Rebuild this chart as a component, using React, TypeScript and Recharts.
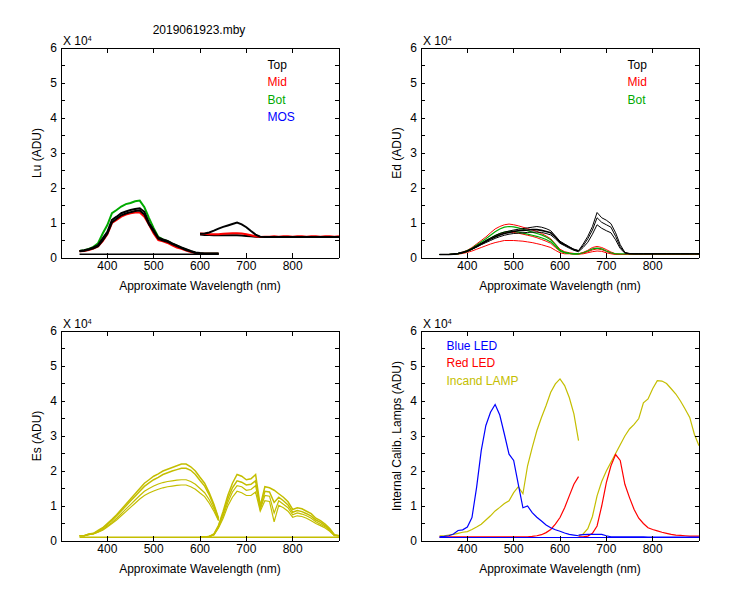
import { LineChart, Line, XAxis, YAxis, Legend, ReferenceLine } from 'recharts'

// Spectra are in units of 10^4 ADU
const wlA = [340, 350, 360, 370, 380, 390, 400, 410, 420, 430, 440, 450, 460, 470, 480, 490, 500, 510, 520, 530, 540, 550, 560, 570, 580, 590, 600, 610, 620, 630, 640]
const wlB = [600, 610, 620, 630, 640, 650, 660, 670, 680, 690, 700, 710, 720, 730, 740, 750, 760, 770, 780, 790, 800, 810, 820, 830, 840, 850, 860, 870, 880, 890, 900]
const wlBaseA = [340, 640]
const wlBaseAll = [340, 900]

const xTicks = [400, 500, 600, 700, 800]
const yTicks = [0, 0.5, 1, 1.5, 2, 2.5, 3, 3.5, 4, 4.5, 5, 5.5, 6]

// Lu
const luTopA = [0.2, 0.22, 0.25, 0.3, 0.37, 0.56, 0.75, 1.09, 1.18, 1.28, 1.33, 1.37, 1.4, 1.42, 1.32, 1.0, 0.8, 0.58, 0.53, 0.49, 0.42, 0.36, 0.3, 0.25, 0.2, 0.16, 0.14, 0.13, 0.13, 0.13, 0.13]
const luTopA2 = [0.19, 0.21, 0.24, 0.28, 0.34, 0.5, 0.7, 1.02, 1.12, 1.22, 1.27, 1.31, 1.34, 1.36, 1.24, 0.96, 0.75, 0.55, 0.5, 0.46, 0.4, 0.34, 0.28, 0.23, 0.19, 0.15, 0.13, 0.12, 0.12, 0.12, 0.12]
const luMidA = [0.19, 0.2, 0.23, 0.27, 0.33, 0.48, 0.68, 1.0, 1.09, 1.18, 1.24, 1.28, 1.3, 1.3, 1.18, 0.95, 0.7, 0.51, 0.48, 0.43, 0.36, 0.3, 0.26, 0.21, 0.17, 0.14, 0.12, 0.12, 0.12, 0.12, 0.12]
const luBotA = [0.2, 0.22, 0.26, 0.32, 0.42, 0.7, 0.94, 1.28, 1.37, 1.47, 1.54, 1.57, 1.62, 1.64, 1.45, 1.14, 0.85, 0.6, 0.53, 0.48, 0.41, 0.35, 0.29, 0.24, 0.19, 0.15, 0.13, 0.12, 0.12, 0.12, 0.12]
const luBaseA = [0.11, 0.11]
const luTopB = [0.69, 0.7, 0.73, 0.78, 0.84, 0.89, 0.93, 0.97, 1.01, 0.96, 0.88, 0.77, 0.67, 0.61, 0.6, 0.6, 0.6, 0.6, 0.6, 0.6, 0.6, 0.6, 0.6, 0.6, 0.6, 0.6, 0.6, 0.6, 0.6, 0.6, 0.6]
const luLowB = [0.67, 0.66, 0.66, 0.65, 0.65, 0.65, 0.65, 0.65, 0.65, 0.64, 0.63, 0.62, 0.61, 0.6, 0.6, 0.6, 0.6, 0.6, 0.6, 0.6, 0.6, 0.6, 0.6, 0.6, 0.6, 0.6, 0.6, 0.6, 0.6, 0.6, 0.6]
const luMidB = [0.7, 0.69, 0.68, 0.68, 0.68, 0.69, 0.7, 0.71, 0.71, 0.7, 0.68, 0.65, 0.62, 0.6, 0.61, 0.61, 0.62, 0.61, 0.62, 0.62, 0.61, 0.62, 0.62, 0.61, 0.62, 0.62, 0.61, 0.62, 0.62, 0.61, 0.62]

// Ed
const edTopA1 = [0.1, 0.1, 0.1, 0.11, 0.13, 0.16, 0.2, 0.27, 0.35, 0.42, 0.5, 0.57, 0.64, 0.7, 0.74, 0.77, 0.8, 0.82, 0.84, 0.86, 0.88, 0.9, 0.88, 0.84, 0.78, 0.63, 0.48, 0.4, 0.32, 0.25, 0.21]
const edTopA2 = [0.1, 0.1, 0.1, 0.11, 0.13, 0.16, 0.2, 0.26, 0.33, 0.4, 0.47, 0.54, 0.6, 0.66, 0.7, 0.73, 0.76, 0.78, 0.79, 0.8, 0.81, 0.81, 0.79, 0.76, 0.72, 0.6, 0.45, 0.38, 0.31, 0.24, 0.2]
const edTopA3 = [0.1, 0.1, 0.1, 0.11, 0.12, 0.15, 0.19, 0.25, 0.31, 0.38, 0.44, 0.5, 0.56, 0.61, 0.65, 0.68, 0.7, 0.71, 0.72, 0.73, 0.74, 0.74, 0.73, 0.7, 0.66, 0.55, 0.42, 0.35, 0.28, 0.22, 0.18]
const edTopB1 = [null, null, null, null, 0.21, 0.4, 0.62, 0.9, 1.3, 1.15, 1.08, 0.98, 0.72, 0.38, 0.16, 0.13, 0.12, 0.12, 0.12, 0.12, 0.12, 0.12, 0.12, 0.12, 0.12, 0.12, 0.12, 0.12, 0.12, 0.12, 0.12]
const edTopB2 = [null, null, null, null, 0.2, 0.35, 0.55, 0.8, 1.15, 1.02, 0.95, 0.88, 0.62, 0.32, 0.15, 0.12, 0.12, 0.12, 0.12, 0.12, 0.12, 0.12, 0.12, 0.12, 0.12, 0.12, 0.12, 0.12, 0.12, 0.12, 0.12]
const edTopB3 = [null, null, null, null, 0.18, 0.3, 0.45, 0.68, 0.95, 0.85, 0.78, 0.72, 0.52, 0.27, 0.14, 0.12, 0.12, 0.12, 0.12, 0.12, 0.12, 0.12, 0.12, 0.12, 0.12, 0.12, 0.12, 0.12, 0.12, 0.12, 0.12]
const edMidA1 = [0.1, 0.1, 0.1, 0.11, 0.13, 0.17, 0.22, 0.3, 0.4, 0.5, 0.6, 0.72, 0.83, 0.9, 0.95, 0.97, 0.95, 0.92, 0.88, 0.84, 0.8, 0.76, 0.7, 0.63, 0.55, 0.4, 0.25, 0.18, 0.15, 0.13, 0.12]
const edMidA2 = [0.1, 0.1, 0.1, 0.11, 0.12, 0.15, 0.19, 0.25, 0.32, 0.4, 0.48, 0.56, 0.63, 0.68, 0.72, 0.74, 0.73, 0.71, 0.68, 0.65, 0.62, 0.58, 0.53, 0.48, 0.42, 0.3, 0.2, 0.15, 0.13, 0.12, 0.12]
const edMidA3 = [0.1, 0.1, 0.1, 0.1, 0.11, 0.13, 0.16, 0.2, 0.25, 0.3, 0.35, 0.4, 0.44, 0.47, 0.5, 0.5, 0.5, 0.49, 0.48, 0.46, 0.44, 0.41, 0.38, 0.34, 0.3, 0.22, 0.15, 0.12, 0.12, 0.11, 0.11]
const edMidB1 = [null, null, null, null, 0.12, 0.16, 0.22, 0.3, 0.33, 0.3, 0.24, 0.17, 0.12, 0.11, 0.1, 0.1, 0.1, 0.1, 0.1, 0.1, 0.1, 0.1, 0.1, 0.1, 0.1, 0.1, 0.1, 0.1, 0.1, 0.1, 0.1]
const edMidB2 = [null, null, null, null, 0.11, 0.14, 0.18, 0.23, 0.26, 0.24, 0.19, 0.14, 0.11, 0.1, 0.1, 0.1, 0.1, 0.1, 0.1, 0.1, 0.1, 0.1, 0.1, 0.1, 0.1, 0.1, 0.1, 0.1, 0.1, 0.1, 0.1]
const edMidB3 = [null, null, null, null, 0.11, 0.12, 0.15, 0.18, 0.2, 0.19, 0.15, 0.12, 0.1, 0.1, 0.1, 0.1, 0.1, 0.1, 0.1, 0.1, 0.1, 0.1, 0.1, 0.1, 0.1, 0.1, 0.1, 0.1, 0.1, 0.1, 0.1]
const edBotA1 = [0.1, 0.1, 0.1, 0.11, 0.13, 0.16, 0.21, 0.28, 0.37, 0.46, 0.55, 0.65, 0.75, 0.83, 0.88, 0.9, 0.89, 0.86, 0.82, 0.78, 0.74, 0.7, 0.66, 0.6, 0.52, 0.38, 0.22, 0.16, 0.13, 0.12, 0.12]
const edBotA2 = [0.1, 0.1, 0.1, 0.11, 0.12, 0.15, 0.19, 0.25, 0.33, 0.41, 0.49, 0.57, 0.64, 0.7, 0.74, 0.76, 0.76, 0.74, 0.71, 0.68, 0.65, 0.62, 0.58, 0.53, 0.46, 0.34, 0.2, 0.15, 0.13, 0.12, 0.12]
const edBotB = [null, null, null, null, 0.12, 0.15, 0.2, 0.26, 0.28, 0.26, 0.2, 0.15, 0.12, 0.12, 0.12, 0.12, 0.12, 0.12, 0.12, 0.12, 0.12, 0.12, 0.12, 0.12, 0.12, 0.12, 0.12, 0.12, 0.12, 0.12, 0.12]

// Es
const esA1 = [0.15, 0.15, 0.2, 0.22, 0.3, 0.38, 0.5, 0.62, 0.75, 0.9, 1.05, 1.2, 1.35, 1.5, 1.65, 1.75, 1.85, 1.92, 2.0, 2.05, 2.1, 2.15, 2.2, 2.2, 2.12, 2.0, 1.82, 1.65, 1.38, 1.05, 0.65]
const esA2 = [0.15, 0.15, 0.19, 0.21, 0.28, 0.36, 0.47, 0.59, 0.72, 0.86, 1.0, 1.14, 1.28, 1.42, 1.56, 1.66, 1.75, 1.82, 1.9, 1.95, 2.0, 2.04, 2.08, 2.08, 2.02, 1.9, 1.73, 1.57, 1.32, 1.0, 0.63]
const esA3 = [0.15, 0.15, 0.18, 0.2, 0.26, 0.33, 0.43, 0.53, 0.65, 0.78, 0.91, 1.04, 1.17, 1.3, 1.42, 1.5, 1.57, 1.63, 1.67, 1.7, 1.72, 1.74, 1.75, 1.75, 1.7, 1.62, 1.5, 1.38, 1.18, 0.92, 0.6]
const esA4 = [0.15, 0.15, 0.18, 0.2, 0.25, 0.31, 0.4, 0.5, 0.6, 0.72, 0.84, 0.96, 1.08, 1.2, 1.3, 1.37, 1.43, 1.48, 1.52, 1.55, 1.57, 1.59, 1.6, 1.6, 1.55, 1.48, 1.37, 1.27, 1.08, 0.85, 0.58]
const esB1 = [0.12, 0.12, 0.13, 0.2, 0.45, 0.85, 1.3, 1.65, 1.9, 1.85, 1.75, 1.78, 1.9, 1.0, 1.55, 1.52, 1.45, 1.35, 1.25, 1.12, 0.9, 0.95, 0.92, 0.85, 0.78, 0.65, 0.58, 0.48, 0.36, 0.18, 0.15]
const esB2 = [0.12, 0.12, 0.13, 0.19, 0.42, 0.78, 1.2, 1.52, 1.72, 1.68, 1.6, 1.62, 1.72, 0.95, 1.42, 1.4, 1.1, 1.25, 1.15, 1.03, 0.82, 0.87, 0.84, 0.78, 0.71, 0.6, 0.53, 0.44, 0.33, 0.17, 0.15]
const esB3 = [0.12, 0.12, 0.13, 0.18, 0.4, 0.72, 1.1, 1.4, 1.58, 1.55, 1.45, 1.47, 1.58, 0.9, 1.3, 1.28, 0.8, 1.15, 1.05, 0.95, 0.75, 0.8, 0.77, 0.72, 0.65, 0.55, 0.48, 0.41, 0.3, 0.16, 0.15]
const esB4 = [0.12, 0.12, 0.13, 0.17, 0.37, 0.65, 1.0, 1.25, 1.42, 1.38, 1.3, 1.3, 1.4, 0.85, 1.15, 1.13, 0.55, 1.02, 0.95, 0.85, 0.68, 0.72, 0.7, 0.65, 0.58, 0.5, 0.44, 0.37, 0.28, 0.15, 0.15]
const esBase = [0.11, 0.11]

// Internal calibration lamps
const blueA = [0.12, 0.13, 0.15, 0.2, 0.3, 0.32, 0.4, 0.67, 1.53, 2.58, 3.3, 3.68, 3.9, 3.6, 3.05, 2.48, 2.3, 1.62, 0.95, 1.0, 0.81, 0.68, 0.57, 0.46, 0.38, 0.32, 0.28, 0.23, 0.19, 0.17, 0.15]
const blueB = [null, null, null, null, 0.17, 0.18, 0.19, 0.19, 0.19, 0.19, 0.15, 0.12, 0.12, 0.12, 0.12, 0.12, 0.12, 0.12, 0.12, 0.11, 0.11, 0.11, 0.11, 0.11, 0.11, 0.11, 0.11, 0.11, 0.11, 0.11, 0.11]
const blueBase = [0.1, 0.1]
const redA = [0.12, 0.12, 0.12, 0.12, 0.12, 0.12, 0.12, 0.12, 0.12, 0.12, 0.12, 0.12, 0.12, 0.12, 0.12, 0.12, 0.12, 0.12, 0.12, 0.12, 0.13, 0.15, 0.18, 0.24, 0.33, 0.48, 0.67, 0.95, 1.29, 1.62, 1.84]
const redB = [null, null, null, null, 0.12, 0.12, 0.14, 0.22, 0.43, 1.0, 1.67, 2.15, 2.47, 2.3, 1.62, 1.24, 0.9, 0.65, 0.5, 0.38, 0.33, 0.29, 0.25, 0.22, 0.19, 0.17, 0.16, 0.15, 0.14, 0.14, 0.14]
const lampA = [0.15, 0.15, 0.17, 0.19, 0.22, 0.25, 0.27, 0.33, 0.4, 0.48, 0.6, 0.72, 0.86, 0.96, 1.07, 1.15, 1.38, 1.55, 1.35, 2.15, 2.67, 3.15, 3.53, 3.87, 4.25, 4.49, 4.63, 4.44, 4.1, 3.63, 2.87]
const lampB = [null, null, null, null, 0.15, 0.2, 0.35, 0.7, 1.29, 1.7, 2.0, 2.25, 2.5, 2.75, 3.0, 3.2, 3.33, 3.5, 3.95, 4.06, 4.35, 4.58, 4.57, 4.5, 4.35, 4.2, 4.0, 3.77, 3.53, 3.05, 2.72]

const FONT = '"Liberation Sans", Arial, Helvetica, sans-serif'
const BLACK = '#000000'
const RED = '#ff0000'
const GREEN = '#00aa00'
const BLUE = '#0000ff'
const OLIVE = '#c4be00'

// chart box: 360x280 with a 278x210 plot area
const CHART_W = 360
const CHART_H = 280
const Y_AXIS_W = 60
const X_AXIS_H = 42
const MARGIN = { top: 28, right: 22, bottom: 0, left: 0 }
const X_TICK_GAP = 3
const Y_TICK_GAP = 4
const X_MIN = 300
const X_MAX = 900
const Y_MIN = 0
const Y_MAX = 6
// inward tick lengths in axis units (about 5 px and 4 px)
const X_TICK_LEN = 0.14
const Y_TICK_LEN = 9
const FRAME = { stroke: '#000', shapeRendering: 'crispEdges' }

type Trace = { wl: number[]; v: (number | null)[]; color: string; w: number }
type LegendItem = { label: string; color: string }

const toPoints = (wl: number[], v: (number | null)[]) => wl.map((x, i) => ({ wl: x, v: v[i] }))

const luTraces: Trace[] = [
  { wl: wlA, v: luBotA, color: GREEN, w: 2 },
  { wl: wlA, v: luMidA, color: RED, w: 2 },
  { wl: wlA, v: luTopA2, color: BLACK, w: 2 },
  { wl: wlA, v: luTopA, color: BLACK, w: 2 },
  { wl: wlBaseA, v: luBaseA, color: BLACK, w: 1.5 },
  { wl: wlB, v: luLowB, color: BLACK, w: 2 },
  { wl: wlB, v: luMidB, color: RED, w: 2 },
  { wl: wlB, v: luTopB, color: BLACK, w: 2 },
]

const edTraces: Trace[] = [
  { wl: wlA, v: edMidA1, color: RED, w: 1 },
  { wl: wlA, v: edMidA2, color: RED, w: 1 },
  { wl: wlA, v: edMidA3, color: RED, w: 1 },
  { wl: wlB, v: edMidB1, color: RED, w: 1 },
  { wl: wlB, v: edMidB2, color: RED, w: 1 },
  { wl: wlB, v: edMidB3, color: RED, w: 1 },
  { wl: wlA, v: edBotA1, color: GREEN, w: 1.2 },
  { wl: wlA, v: edBotA2, color: GREEN, w: 1.2 },
  { wl: wlB, v: edBotB, color: GREEN, w: 1.2 },
  { wl: wlA, v: edTopA1, color: BLACK, w: 1 },
  { wl: wlA, v: edTopA2, color: BLACK, w: 1.6 },
  { wl: wlA, v: edTopA3, color: BLACK, w: 1 },
  { wl: wlB, v: edTopB1, color: BLACK, w: 1 },
  { wl: wlB, v: edTopB2, color: BLACK, w: 1 },
  { wl: wlB, v: edTopB3, color: BLACK, w: 1 },
]

const esTraces: Trace[] = [
  { wl: wlBaseAll, v: esBase, color: OLIVE, w: 1.5 },
  { wl: wlA, v: esA1, color: OLIVE, w: 1.5 },
  { wl: wlA, v: esA2, color: OLIVE, w: 1.5 },
  { wl: wlA, v: esA3, color: OLIVE, w: 1.2 },
  { wl: wlA, v: esA4, color: OLIVE, w: 1.2 },
  { wl: wlB, v: esB1, color: OLIVE, w: 1.5 },
  { wl: wlB, v: esB2, color: OLIVE, w: 1.5 },
  { wl: wlB, v: esB3, color: OLIVE, w: 1.2 },
  { wl: wlB, v: esB4, color: OLIVE, w: 1.2 },
]

const lampTraces: Trace[] = [
  { wl: wlA, v: lampA, color: OLIVE, w: 1.2 },
  { wl: wlB, v: lampB, color: OLIVE, w: 1.2 },
  { wl: wlA, v: redA, color: RED, w: 1.2 },
  { wl: wlB, v: redB, color: RED, w: 1.2 },
  { wl: wlBaseAll, v: blueBase, color: BLUE, w: 1.2 },
  { wl: wlA, v: blueA, color: BLUE, w: 1.2 },
  { wl: wlB, v: blueB, color: BLUE, w: 1.2 },
]

const luLegend: LegendItem[] = [
  { label: 'Top', color: BLACK },
  { label: 'Mid', color: RED },
  { label: 'Bot', color: GREEN },
  { label: 'MOS', color: BLUE },
]
const edLegend: LegendItem[] = [
  { label: 'Top', color: BLACK },
  { label: 'Mid', color: RED },
  { label: 'Bot', color: GREEN },
]
const lampLegend: LegendItem[] = [
  { label: 'Blue LED', color: BLUE },
  { label: 'Red LED', color: RED },
  { label: 'Incand LAMP', color: OLIVE },
]

// inward tick marks on all four edges, as short segments through the chart scales
const tickSegments = [
  ...xTicks.map((t) => [{ x: t, y: Y_MIN }, { x: t, y: Y_MIN + X_TICK_LEN }]),
  ...xTicks.map((t) => [{ x: t, y: Y_MAX }, { x: t, y: Y_MAX - X_TICK_LEN }]),
  ...yTicks.map((t) => [{ x: X_MIN, y: t }, { x: X_MIN + Y_TICK_LEN, y: t }]),
  ...yTicks.map((t) => [{ x: X_MAX, y: t }, { x: X_MAX - Y_TICK_LEN, y: t }]),
]

const XTick = (props: any) => {
  const { x, y, payload } = props
  return (
    <text x={x} y={y} dy="0.71em" textAnchor="middle" fontSize={12} fontFamily={FONT} fill="#000">
      {payload.value}
    </text>
  )
}

// labels only on whole numbers
const YTick = (props: any) => {
  const { x, y, payload } = props
  if (!Number.isInteger(payload.value)) return <g />
  return (
    <text x={x} y={y} dy="0.355em" textAnchor="end" fontSize={12} fontFamily={FONT} fill="#000">
      {payload.value}
    </text>
  )
}

interface PanelProps {
  left: number
  top: number
  yLabel: string
  title?: string
  traces: Trace[]
  legend?: LegendItem[]
  legendX?: number
  legendY?: number
}

function Panel({ left, top, yLabel, title, traces, legend, legendX = 0, legendY = 0 }: PanelProps) {
  // y label, the "X 10^4" multiplier and the optional title, placed from the axis viewBox
  const axisTexts = (props: any) => {
    const vb = props.viewBox
    if (!vb) return null
    const cx = vb.x + 36
    const cy = vb.y + vb.height / 2
    const px = vb.x + vb.width
    return (
      <g fontFamily={FONT} fill="#000">
        <text x={cx} y={cy} transform={`rotate(-90 ${cx} ${cy})`} textAnchor="middle" dominantBaseline="central" fontSize={12}>
          {yLabel}
        </text>
        <text x={px + 2} y={vb.y - 3} fontSize={12}>
          X 10<tspan fontSize={7} dy={-4}>4</tspan>
        </text>
        {title && (
          <text x={px + 138} y={vb.y - 14} textAnchor="middle" fontSize={12}>
            {title}
          </text>
        )}
      </g>
    )
  }

  return (
    <div style={{ position: 'absolute', left, top }}>
      <LineChart width={CHART_W} height={CHART_H} margin={MARGIN}>
        <XAxis
          xAxisId="xb"
          dataKey="wl"
          type="number"
          domain={[X_MIN, X_MAX]}
          ticks={xTicks}
          interval={0}
          height={X_AXIS_H}
          stroke="#000"
          axisLine={FRAME}
          tickLine={false}
          tickSize={0}
          tickMargin={X_TICK_GAP}
          tick={XTick}
          label={{ value: 'Approximate Wavelength (nm)', position: 'insideBottom', offset: 10, fill: '#000', fontSize: 12, fontFamily: FONT }}
        />
        <XAxis xAxisId="xt" orientation="top" type="number" domain={[X_MIN, X_MAX]} mirror stroke="#000" axisLine={FRAME} tick={false} tickLine={false} />
        <YAxis
          yAxisId="yl"
          type="number"
          domain={[Y_MIN, Y_MAX]}
          ticks={yTicks}
          interval={0}
          width={Y_AXIS_W}
          stroke="#000"
          axisLine={FRAME}
          tickLine={false}
          tickSize={0}
          tickMargin={Y_TICK_GAP}
          tick={YTick}
          label={axisTexts}
        />
        <YAxis yAxisId="yr" orientation="right" type="number" domain={[Y_MIN, Y_MAX]} mirror stroke="#000" axisLine={FRAME} tick={false} tickLine={false} />
        {legend && (
          <Legend
            layout="vertical"
            align="center"
            verticalAlign="middle"
            wrapperStyle={{ left: legendX, top: legendY, width: 'auto', height: 'auto' }}
            content={() => (
              <div style={{ fontFamily: FONT, fontSize: 12, lineHeight: '17.5px', whiteSpace: 'nowrap' }}>
                {legend.map((it) => (
                  <div key={it.label} style={{ color: it.color }}>
                    {it.label}
                  </div>
                ))}
              </div>
            )}
          />
        )}
        {traces.map((t, i) => (
          <Line
            key={i}
            data={toPoints(t.wl, t.v)}
            dataKey="v"
            xAxisId="xb"
            yAxisId="yl"
            type="linear"
            stroke={t.color}
            strokeWidth={t.w}
            dot={false}
            activeDot={false}
            legendType="none"
            connectNulls={false}
            isAnimationActive={false}
          />
        ))}
        {tickSegments.map((seg, i) => (
          <ReferenceLine
            key={`tick-${i}`}
            segment={seg}
            xAxisId="xb"
            yAxisId="yl"
            stroke="#000"
            strokeWidth={1}
            ifOverflow="visible"
            shapeRendering="crispEdges"
          />
        ))}
      </LineChart>
    </div>
  )
}

export default function App() {
  return (
    <div style={{ position: 'absolute', left: 0, top: 0, width: 750, height: 600, background: '#fff' }}>
      <Panel left={0.5} top={19.5} yLabel="Lu (ADU)" title="2019061923.mby" traces={luTraces} legend={luLegend} legendX={267} legendY={37} />
      <Panel left={360.5} top={19.5} yLabel="Ed  (ADU)" traces={edTraces} legend={edLegend} legendX={267} legendY={37} />
      <Panel left={0.5} top={302.5} yLabel="Es  (ADU)" traces={esTraces} />
      <Panel left={360.5} top={302.5} yLabel="Internal Calib. Lamps (ADU)" traces={lampTraces} legend={lampLegend} legendX={86} legendY={35} />
    </div>
  )
}
